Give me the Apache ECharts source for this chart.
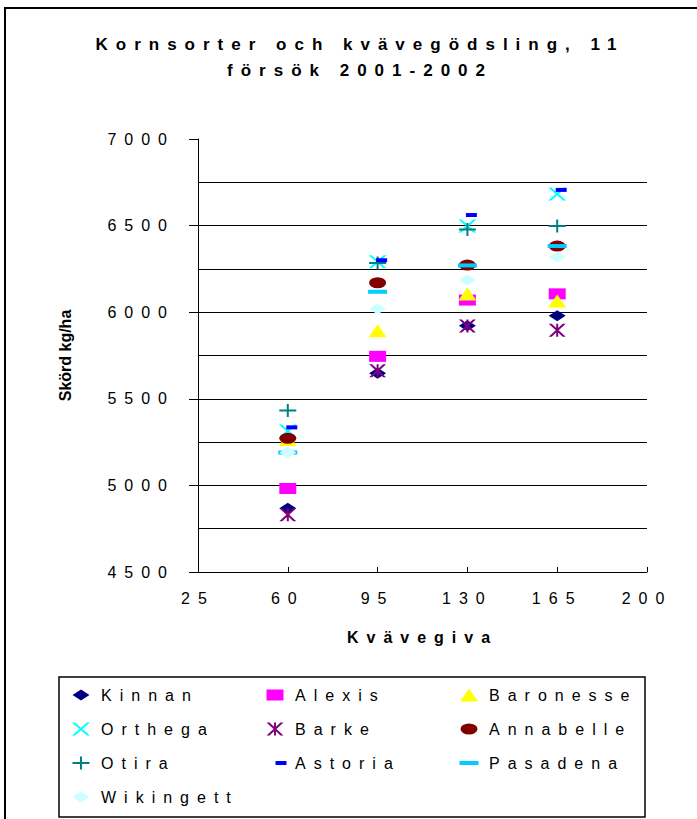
<!DOCTYPE html>
<html>
<head>
<meta charset="utf-8">
<script src="https://cdn.jsdelivr.net/npm/echarts@6/dist/echarts.min.js"></script>
<style>
  html, body { margin: 0; padding: 0; background: #fff; }
  #main { width: 697px; height: 819px; }
</style>
</head>
<body>
<div id="main"></div>
<script>
// kvävegiva (x) och skörd kg/ha per sort
var doses = [60, 95, 130, 165];
var kinnan = [4868, 5648, 5922, 5980];
var alexis = [4982, 5745, 6070, 6106];
var baronesse = [5265, 5893, 6105, 6065];
var orthega = [5314, 6292, 6498, 6682];
var barke = [4830, 5662, 5920, 5896];
var annabelle = [5272, 6170, 6272, 6382];
var otira = [5432, 6284, 6478, 6498];
var astoria = [5335, 6300, 6561, 6706];
var pasadena = [5190, 6118, 6270, 6382];
var wikingett = [5190, 6018, 6186, 6318];
var xTicks = [25, 60, 95, 130, 165, 200];
var yTicks = [4500, 5000, 5500, 6000, 6500, 7000];

var FONT = 'Liberation Sans, Arial, sans-serif';
var Y_NAME = 'Skörd kg/ha';

// symbolformer som svg-path, ritade i en ruta w x h med hörn i (x, y)
function shape(kind, w, h, x, y) {
  var cx = x + w / 2, cy = y + h / 2, t = 3;
  switch (kind) {
    case 'diamond':
      return 'M' + cx + ',' + y + 'L' + (x + w) + ',' + cy + 'L' + cx + ',' + (y + h) + 'L' + x + ',' + cy + 'Z';
    case 'rect':
      return 'M' + x + ',' + y + 'L' + (x + w) + ',' + y + 'L' + (x + w) + ',' + (y + h) + 'L' + x + ',' + (y + h) + 'Z';
    case 'triangle':
      return 'M' + cx + ',' + y + 'L' + (x + w) + ',' + (y + h) + 'L' + x + ',' + (y + h) + 'Z';
    case 'cross':
      return 'M' + x + ',' + y + 'L' + (x + t) + ',' + y + 'L' + (x + w) + ',' + (y + h) + 'L' + (x + w - t) + ',' + (y + h) + 'Z' +
        'M' + (x + w - t) + ',' + y + 'L' + (x + w) + ',' + y + 'L' + (x + t) + ',' + (y + h) + 'L' + x + ',' + (y + h) + 'Z';
    case 'star':
      return shape('cross', w, h, x, y) + shape('rect', 2, h, cx - 1, y);
    case 'plus':
      return shape('rect', 2, h, cx - 1, y) + shape('rect', w, 2, x, cy - 1);
    case 'ellipse':
      return 'M' + x + ',' + cy + 'A' + (w / 2) + ',' + (h / 2) + ',0,1,1,' + (x + w) + ',' + cy +
        'A' + (w / 2) + ',' + (h / 2) + ',0,1,1,' + x + ',' + cy + 'Z';
  }
}

var LW = 30, LH = 16;
function symbol(kind, w, h) { return 'path://' + shape(kind, w, h, 0, 0); }
function legendIcon(kind, w, h, dx) {
  // hörnpunkter håller ikonrutan 30x16 så att storleken blir 1:1
  return 'path://M0,0ZM' + LW + ',' + LH + 'Z' + shape(kind, w, h, LW / 2 - w / 2 + (dx || 0), LH / 2 - h / 2);
}

var sorts = [
  { name: 'Kinnan', data: kinnan, color: '#000080', kind: 'diamond', w: 17, h: 11 },
  { name: 'Alexis', data: alexis, color: '#FF00FF', kind: 'rect', w: 17, h: 11 },
  { name: 'Baronesse', data: baronesse, color: '#FFFF00', kind: 'triangle', w: 18, h: 13 },
  { name: 'Orthega', data: orthega, color: '#00FFFF', kind: 'cross', w: 18, h: 13 },
  { name: 'Barke', data: barke, color: '#800080', kind: 'star', w: 17, h: 13 },
  { name: 'Annabelle', data: annabelle, color: '#800000', kind: 'ellipse', w: 17, h: 11 },
  { name: 'Otira', data: otira, color: '#008080', kind: 'plus', w: 17, h: 13 },
  { name: 'Astoria', data: astoria, color: '#0000FF', kind: 'rect', w: 11, h: 4, dx: 4, ldx: 6 },
  { name: 'Pasadena', data: pasadena, color: '#00CCFF', kind: 'rect', w: 19, h: 4 },
  { name: 'Wikingett', data: wikingett, color: '#CCFFFF', kind: 'diamond', w: 17, h: 11 }
];

var series = sorts.map(function (s) {
  return {
    name: s.name,
    type: 'scatter',
    data: doses.map(function (d, i) { return [d, s.data[i]]; }),
    symbol: symbol(s.kind, s.w, s.h),
    symbolSize: [s.w, s.h],
    symbolOffset: [s.dx || 0, 0],
    itemStyle: { color: s.color, opacity: 1 },
    emphasis: { disabled: true },
    z: 3
  };
});

function legendCol(names, left) {
  return {
    orient: 'vertical',
    left: left,
    top: 687,
    padding: 0,
    itemGap: 18,
    itemWidth: LW,
    itemHeight: LH,
    selectedMode: false,
    textStyle: { fontFamily: FONT, fontSize: 16, lineHeight: 16, color: '#000' },
    data: names.map(function (n) {
      var s = sorts.filter(function (o) { return o.name === n; })[0];
      return { name: n, icon: legendIcon(s.kind, s.w, s.h, s.ldx) };
    })
  };
}

var dom = document.getElementById('main');
var chart = echarts.init(dom, null, { renderer: 'svg' });

var option = {
  animation: false,
  backgroundColor: '#fff',
  title: {
    text: 'Kornsorter och kvävegödsling, 11\nförsök 2001-2002',
    left: 360,
    top: 31,
    textAlign: 'center',
    padding: 0,
    textStyle: { fontFamily: FONT, fontSize: 17, fontWeight: 'bold', lineHeight: 26, color: '#000' }
  },
  legend: [
    legendCol(['Kinnan', 'Orthega', 'Otira', 'Wikingett'], 66),
    legendCol(['Alexis', 'Barke', 'Astoria'], 260),
    legendCol(['Baronesse', 'Annabelle', 'Pasadena'], 454)
  ],
  grid: { left: 198, right: 50, top: 139, bottom: 247 },
  xAxis: {
    type: 'value',
    min: xTicks[0],
    max: xTicks[xTicks.length - 1],
    interval: 35,
    name: 'Kvävegiva',
    nameLocation: 'middle',
    nameGap: 57,
    nameTextStyle: { fontFamily: FONT, fontSize: 16, fontWeight: 'bold', color: '#000' },
    axisLine: { lineStyle: { color: '#000', width: 1 } },
    axisTick: { inside: true, length: 5, lineStyle: { color: '#000' } },
    axisLabel: { fontFamily: FONT, fontSize: 16, color: '#000', margin: 18, formatter: function (v) { return String(v); } },
    splitLine: { show: false }
  },
  yAxis: {
    type: 'value',
    min: yTicks[0],
    max: yTicks[yTicks.length - 1],
    interval: 500,
    name: Y_NAME,
    nameLocation: 'middle',
    nameGap: 125,
    nameTextStyle: { fontFamily: FONT, fontSize: 16, fontWeight: 'bold', color: '#000' },
    axisLine: { show: true, lineStyle: { color: '#000', width: 1 } },
    axisTick: { show: true, length: 9, lineStyle: { color: '#000' } },
    axisLabel: { fontFamily: FONT, fontSize: 16, color: '#000', margin: 23, formatter: function (v) { return String(v); } },
    splitLine: {
      show: true,
      lineStyle: { color: ['#000', '#000', '#000', '#000', '#000', 'rgba(0,0,0,0)'], width: 1 }
    },
    minorTick: { show: false, splitNumber: 2 },
    minorSplitLine: { show: true, lineStyle: { color: '#000', width: 1 } }
  },
  graphic: [
    {
      type: 'rect',
      shape: { x: 5, y: 8, width: 720, height: 830 },
      style: { fill: 'none', stroke: '#000', lineWidth: 2 },
      silent: true
    },
    {
      type: 'rect',
      shape: { x: 59, y: 677, width: 586, height: 140 },
      style: { fill: 'none', stroke: '#000', lineWidth: 1.5 },
      silent: true
    }
  ],
  series: series
};

// glesa bokstäver som i originalet (utom y-axelns namn)
chart.on('finished', function () {
  dom.querySelectorAll('text').forEach(function (t) {
    if (t.textContent.indexOf(Y_NAME) < 0) t.style.letterSpacing = '8px';
  });
});

chart.setOption(option);
</script>
</body>
</html>
